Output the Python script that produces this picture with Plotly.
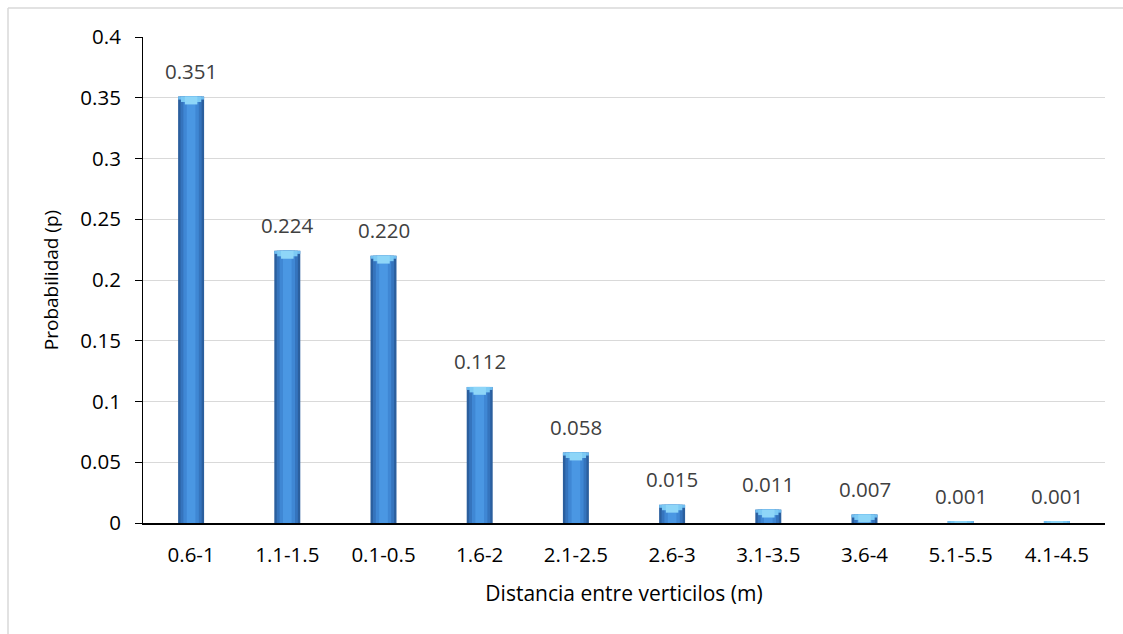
import plotly.graph_objects as go

# Distribution of whorl spacing
categorias = ["0.6-1", "1.1-1.5", "0.1-0.5", "1.6-2", "2.1-2.5",
              "2.6-3", "3.1-3.5", "3.6-4", "5.1-5.5", "4.1-4.5"]
probabilidad = [0.351, 0.224, 0.220, 0.112, 0.058,
                0.015, 0.011, 0.007, 0.001, 0.001]
ticks_y = [0, 0.05, 0.1, 0.15, 0.2, 0.25, 0.3, 0.35, 0.4]

W, H = 1123, 634
ML, MR, MT, MB = 143, 18, 37, 111
FONT = "'Open Sans', sans-serif"

fig = go.Figure()

# layered bars give the bevelled, rounded look of each column
layers = [(0.27, "#2b5f9e"), (0.22, "#3574bd"), (0.16, "#3f87d4"), (0.09, "#4a97e3")]
for width, color in layers:
    fig.add_trace(go.Bar(x=categorias, y=probabilidad, width=width,
                         marker=dict(color=color, line=dict(width=0)),
                         hoverinfo="skip", showlegend=False))

# light bevel on top of every column, narrowing downward
caps = [(0.27, 0.0025, "#6fbdf0"), (0.21, 0.0045, "#7ccaf4"), (0.13, 0.0065, "#8ed6f8")]
for width, depth, color in caps:
    fig.add_trace(go.Bar(x=categorias,
                         y=[min(depth, v) for v in probabilidad],
                         base=[max(0, v - depth) for v in probabilidad],
                         width=width,
                         marker=dict(color=color, line=dict(width=0)),
                         hoverinfo="skip", showlegend=False))

# value labels above the columns
for c, v in zip(categorias, probabilidad):
    fig.add_annotation(x=c, y=v, text=f"{v:.3f}", showarrow=False,
                       yanchor="bottom", yshift=10,
                       font=dict(family=FONT, size=20.5, color="#404040"))

# outer chart frame (top and left edges)
fx0 = (8 - ML) / (W - ML - MR)
fy0 = 1 + (MT - 8) / (H - MT - MB)
fig.add_shape(type="line", xref="paper", yref="paper",
              x0=fx0, x1=1.2, y0=fy0, y1=fy0,
              line=dict(color="#d9d9d9", width=1.5))
fig.add_shape(type="line", xref="paper", yref="paper",
              x0=fx0, x1=fx0, y0=fy0, y1=-0.5,
              line=dict(color="#d9d9d9", width=1.5))

fig.update_layout(
    width=W, height=H,
    margin=dict(l=ML, r=MR, t=MT, b=MB),
    barmode="overlay",
    paper_bgcolor="white", plot_bgcolor="white",
    font=dict(family=FONT, color="#000000"),
    xaxis=dict(
        type="category",
        showline=True, linecolor="#000000", linewidth=2,
        ticks="", showgrid=False,
        ticklabelstandoff=12,
        tickfont=dict(size=20.5, color="#000000"),
        title=dict(text="Distancia entre verticilos (m)",
                   font=dict(size=21, color="#000000"), standoff=20),
    ),
    yaxis=dict(
        range=[0, 0.4], tickvals=ticks_y,
        ticktext=[f"{t:g}" for t in ticks_y],
        showline=True, linecolor="#000000", linewidth=1,
        ticks="outside", ticklen=7, tickcolor="#000000",
        ticklabelstandoff=10,
        showgrid=True, gridcolor="#d9d9d9", gridwidth=1,
        zeroline=False,
        tickfont=dict(size=20.5, color="#000000"),
        title=dict(text="Probabilidad (p)",
                   font=dict(size=19, color="#000000"), standoff=16),
    ),
)

fig.write_html("out.html")
